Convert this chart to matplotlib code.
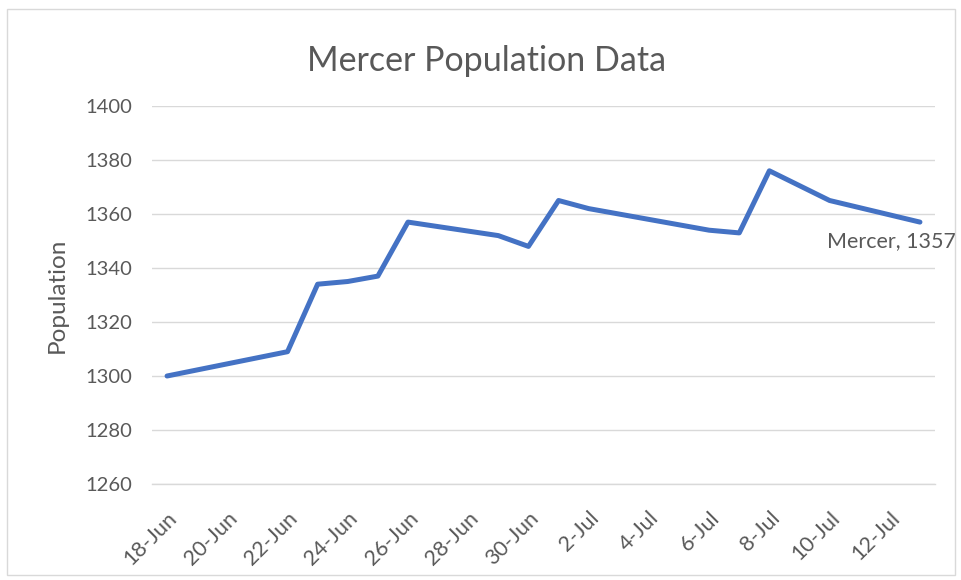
import matplotlib
matplotlib.use("Agg")
import matplotlib.pyplot as plt
import matplotlib.dates as mdates
from matplotlib.patches import Rectangle
import datetime as dt

dates = ["2020-06-18", "2020-06-22", "2020-06-23", "2020-06-24", "2020-06-25",
         "2020-06-26", "2020-06-29", "2020-06-30", "2020-07-01", "2020-07-02",
         "2020-07-06", "2020-07-07", "2020-07-08", "2020-07-10", "2020-07-13"]
population = [1300, 1309, 1334, 1335, 1337, 1357, 1352, 1348, 1365, 1362,
              1354, 1353, 1376, 1365, 1357]
y_ticks = [1260, 1280, 1300, 1320, 1340, 1360, 1380, 1400]
series_name = "Mercer"
title = "Mercer Population Data"
y_label = "Population"

plt.rcParams['font.family'] = ['Lato', 'DejaVu Sans']
txt = '#595959'
grid = '#D9D9D9'

fig = plt.figure(figsize=(9.61, 5.80), dpi=100)
fig.patches.append(Rectangle((7/961, 5/580), (955-7)/961, (573-7)/580,
                             transform=fig.transFigure, fill=False,
                             edgecolor=grid, linewidth=1.0))
ax = fig.add_axes([152/961, 1-484/580, (935-152)/961, (484-106)/580])

x = [dt.datetime.strptime(d, "%Y-%m-%d") for d in dates]
xn = mdates.date2num(x)
ax.plot(xn, population, color='#4472C4', linewidth=3.6,
        solid_joinstyle='round', solid_capstyle='round', zorder=3)

ax.set_xlim(xn[0] - 0.5, xn[-1] + 0.5)
ax.set_ylim(y_ticks[0], y_ticks[-1])
ax.set_yticks(y_ticks)
ticks = [xn[0] + 2*i for i in range(13)]
ax.set_xticks(ticks)
labels = []
for t in ticks:
    d = mdates.num2date(t)
    labels.append(f"{d.day}-{d.strftime('%b')}")
ax.set_xticklabels(labels, rotation=45, ha='right', rotation_mode='anchor')

ax.grid(axis='y', color=grid, linewidth=1.0)
ax.set_axisbelow(True)
for s in ['top', 'right', 'left']:
    ax.spines[s].set_visible(False)
ax.spines['bottom'].set_color(grid)
ax.spines['bottom'].set_linewidth(1.0)
ax.tick_params(axis='both', length=0, colors=txt)
ax.tick_params(axis='y', pad=14, labelsize=14.5)
ax.tick_params(axis='x', pad=17, labelsize=15.5)

fig.text(487/961, 1-61/580, title, fontsize=24.5, color=txt,
         ha='center', va='center')
ax.set_ylabel(y_label, fontsize=17.5, color=txt, labelpad=13)

ax.annotate(f"{series_name}, {population[-1]}", xy=(xn[-1], population[-1]),
            xytext=(-93, -19), textcoords='offset pixels',
            ha='left', va='center', fontsize=15.5, color=txt,
            annotation_clip=False)

fig.savefig("out.png", dpi=100)
